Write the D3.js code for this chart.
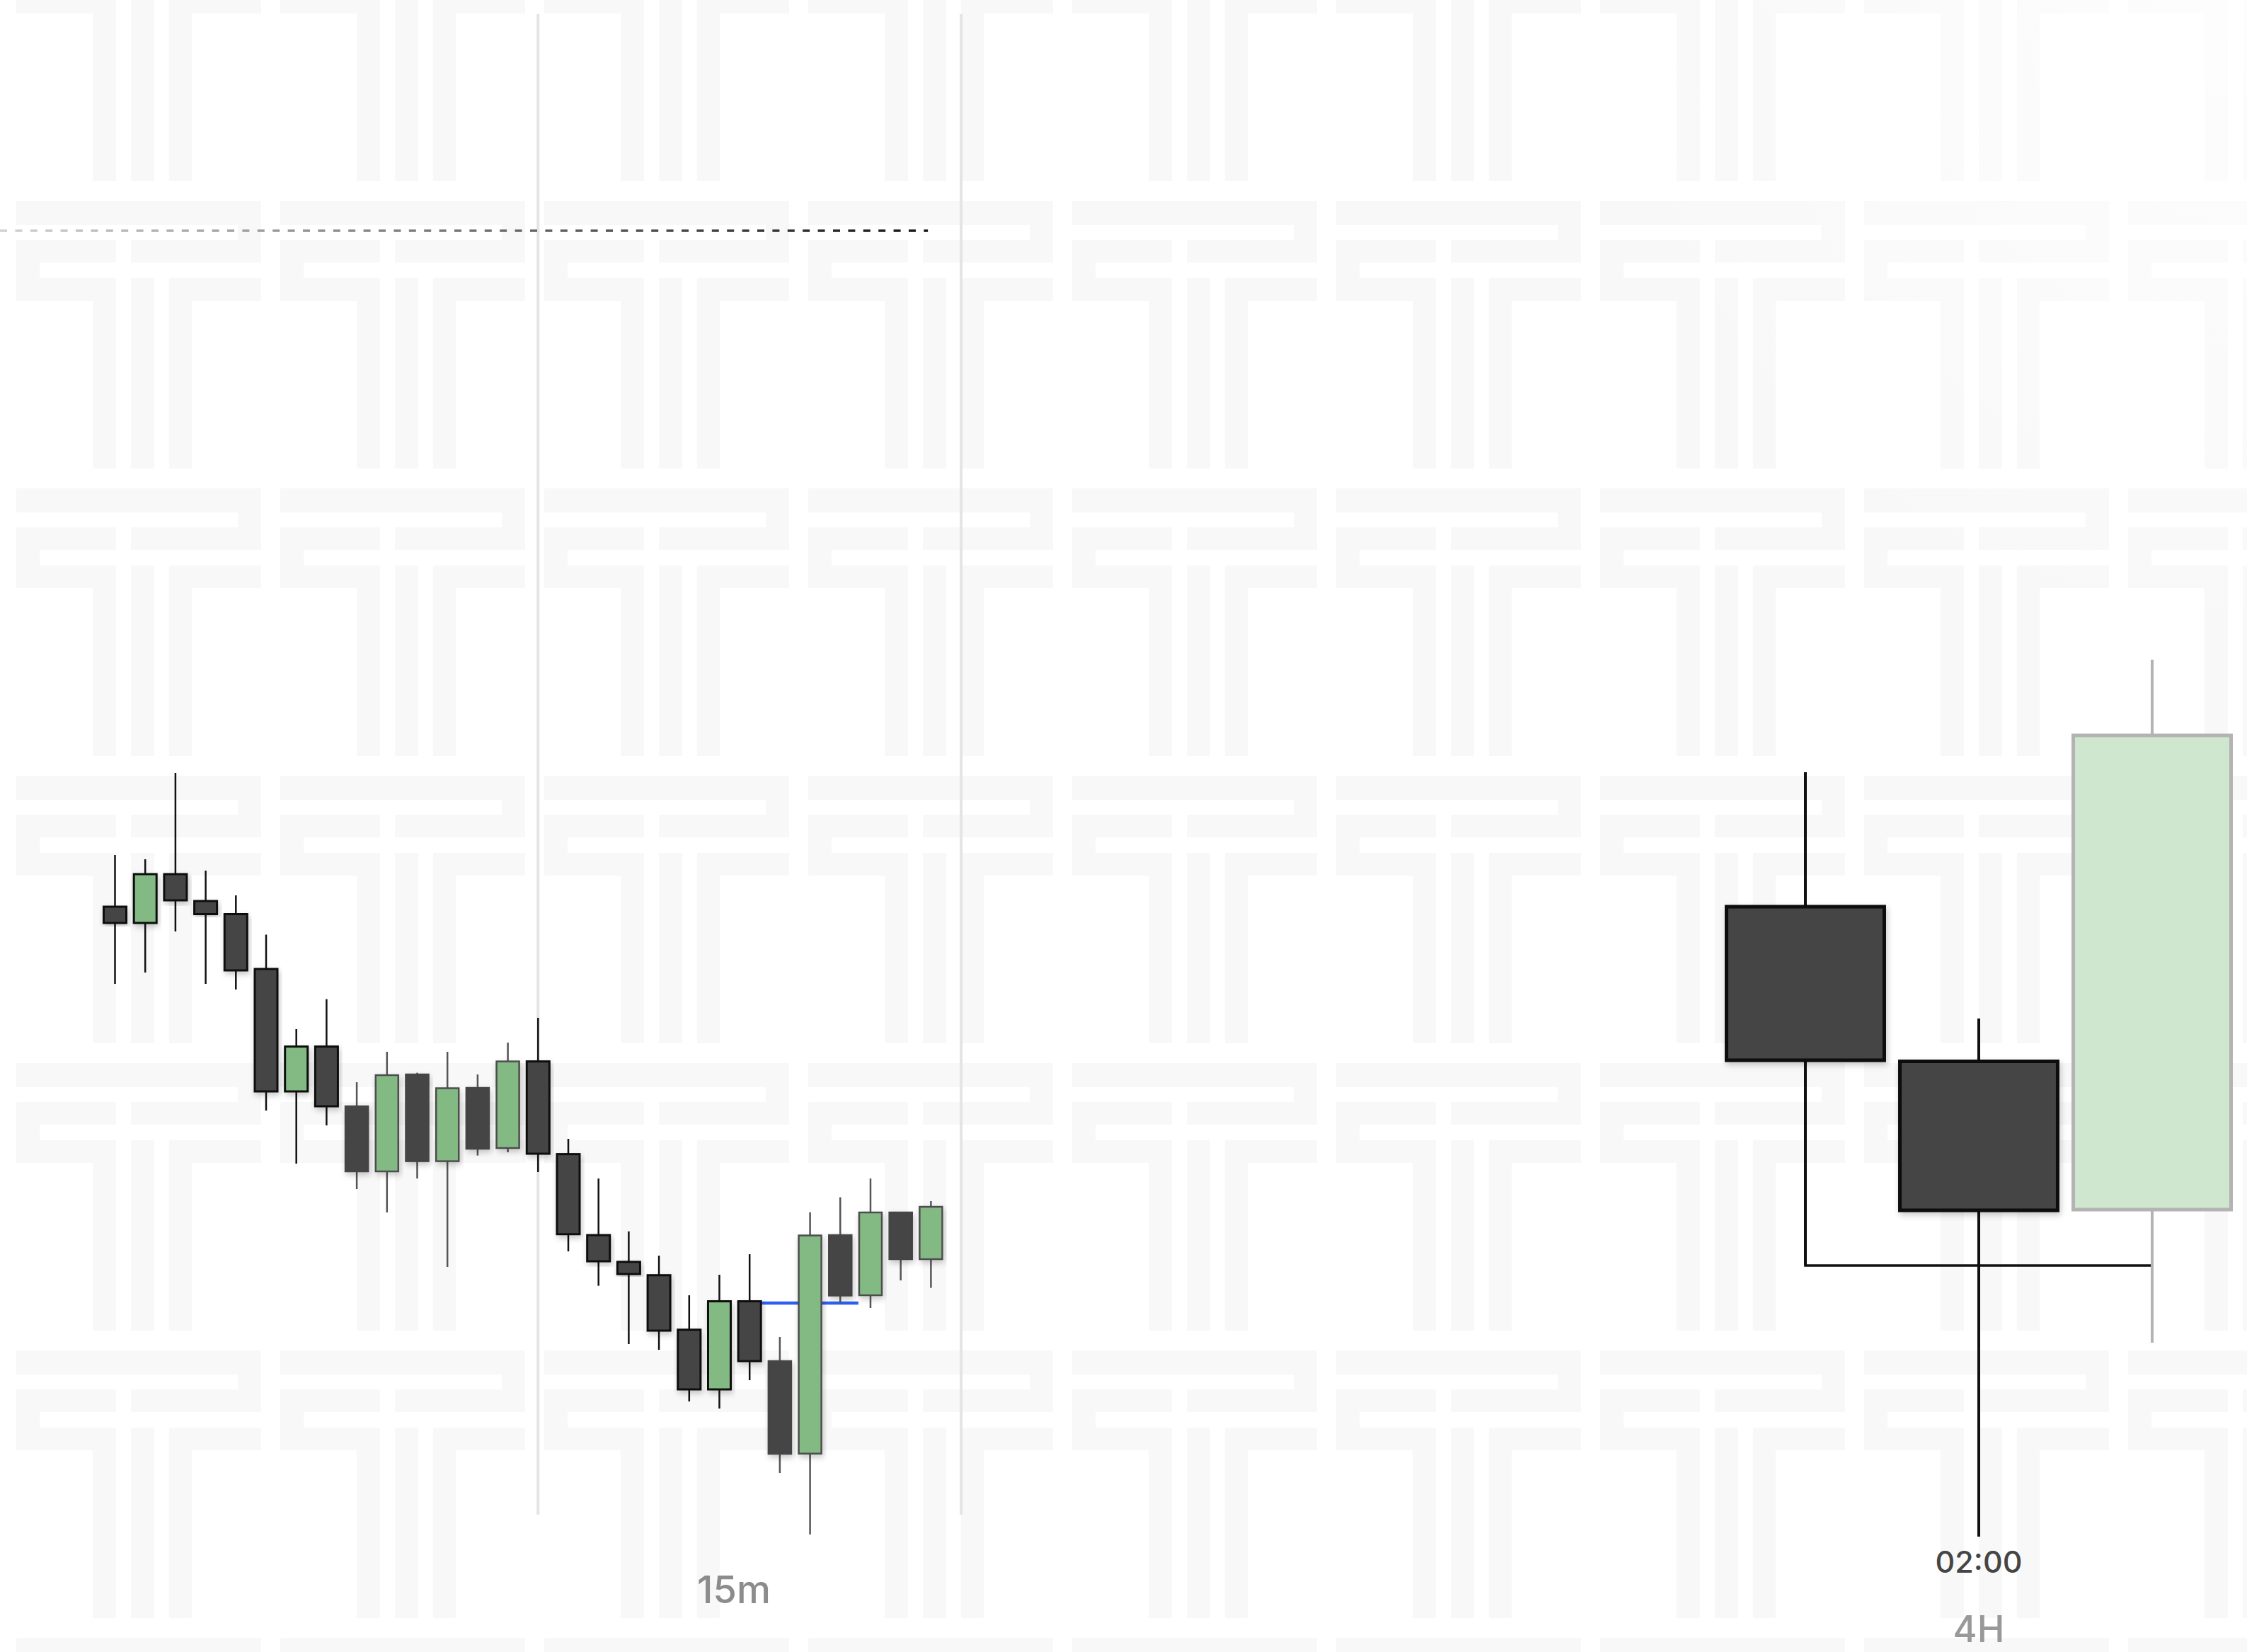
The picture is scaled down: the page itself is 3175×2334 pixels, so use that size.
<!DOCTYPE html>
<html>
<head>
<meta charset="utf-8">
<script src="https://cdn.jsdelivr.net/npm/d3@7"></script>
<style>
body{margin:0;background:#fff;overflow:hidden;}
</style>
</head>
<body>
<svg id="chart"></svg>
<script>
// 15m bars (oldest first)
var m15Open  = [2876.5, 2865, 2899.5, 2880.5, 2871.25, 2832.5, 2746, 2777.7, 2735.5, 2689.5, 2758, 2696.7, 2748.5, 2706,
                2767.2, 2701.7, 2644.5, 2625.6, 2616.15, 2577.7, 2535.5, 2597.75, 2555.5, 2490.15, 2644.5, 2602, 2660.5, 2627.5];
var m15High  = [2913, 2910, 2971, 2902, 2884.5, 2856.75, 2790, 2811.2, 2752.5, 2774, 2759.2, 2774, 2758, 2780.5,
                2798, 2712.5, 2684.5, 2647.15, 2630, 2602, 2616.5, 2631, 2572.5, 2660.65, 2671.25, 2684.5, 2660.5, 2668.5];
var m15Low   = [2822, 2830, 2859, 2822, 2818, 2732.5, 2695, 2722, 2677, 2660.5, 2684.5, 2622, 2700.7, 2703,
                2689, 2633, 2608.7, 2567.5, 2563.5, 2527, 2522, 2542, 2476.5, 2433, 2596.5, 2593, 2612.5, 2607.25];
var m15Close = [2865, 2899.5, 2881, 2871.25, 2831.5, 2746, 2777.7, 2735.5, 2689.5, 2757.5, 2696.7, 2748.25, 2705.5, 2767.2,
                2702, 2645.15, 2626, 2617, 2577, 2535.5, 2597.75, 2555.5, 2490, 2644.25, 2601.8, 2660.5, 2627.5, 2664.5];
// bars drawn with a dark outline
var m15Marked = [[0, 7], [14, 21]];
var m15Grid = [14, 28];

// 4H bars
var h4Times = ['22:00', '02:00', '06:00'];
var h4Open  = [2876.5, 2767.25, 2662.5];
var h4High  = [2971.5, 2797.5, 3051];
var h4Low   = [2623, 2431.5, 2568.5];
var h4Close = [2768, 2662, 2997.5];
var h4Shown = ['02:00'];

var paneNames = ['15m', '4H'];
var dashLevel = 3354;
var dashEnd = 26.9;
var blueLevel = 2596.5;
var blueSpan = [21.4, 24.6];

var W = 3175, H = 2334;
var svg = d3.select('#chart').attr('width', W).attr('height', H);
var defs = svg.append('defs');

// background logo pattern
var pat = defs.append('pattern')
	.attr('id', 'logo')
	.attr('patternUnits', 'userSpaceOnUse')
	.attr('x', 23).attr('y', 284)
	.attr('width', 373).attr('height', 406);
var logoParts = [[0,0,346,34],[313,34,33,21],[0,55,141,32],[0,87,33,22],[0,109,141,32],[108,141,33,237],
	[162,109,33,269],[162,55,184,32],[216,109,130,32],[216,141,32,237]];
pat.selectAll('rect').data(logoParts).enter()
	.append('rect')
		.attr('x', function(d){return d[0]})
		.attr('y', function(d){return d[1]})
		.attr('width', function(d){return d[2]})
		.attr('height', function(d){return d[3]})
		.attr('fill', '#f8f8f8');

var fade = defs.append('radialGradient')
	.attr('id', 'fade')
	.attr('gradientUnits', 'userSpaceOnUse')
	.attr('cx', W).attr('cy', 0).attr('r', 950);
fade.append('stop').attr('offset', 0).attr('stop-color', '#fff').attr('stop-opacity', 0.75);
fade.append('stop').attr('offset', 1).attr('stop-color', '#fff').attr('stop-opacity', 0);

var dashGrad = defs.append('linearGradient')
	.attr('id', 'dashGrad')
	.attr('gradientUnits', 'userSpaceOnUse')
	.attr('x1', 0).attr('x2', 1310).attr('y1', 0).attr('y2', 0);
dashGrad.append('stop').attr('offset', 0).attr('stop-color', '#d2d2d2');
dashGrad.append('stop').attr('offset', 1).attr('stop-color', '#151515');

defs.append('filter')
	.attr('id', 'shadow')
	.attr('x', '-20%').attr('y', '-20%').attr('width', '140%').attr('height', '140%')
	.append('feDropShadow')
		.attr('dx', 2).attr('dy', 4).attr('stdDeviation', 4)
		.attr('flood-color', '#000').attr('flood-opacity', 0.22);

svg.append('rect').attr('width', W).attr('height', H).attr('fill', '#fff');
svg.append('rect').attr('width', W).attr('height', H).attr('fill', 'url(#logo)');
svg.append('rect').attr('width', W).attr('height', H).attr('fill', 'url(#fade)');

// scales
var y = d3.scaleLinear().domain([2400, 3400]).range([2234, 234]);
var x15 = d3.scaleLinear().domain([0, 27]).range([162.5, 1315.4]);
var bw15 = (x15(1) - x15(0)) * 0.75;
var x4 = d3.scaleBand().domain(h4Times).range([2428.5, 3163.5]).paddingInner(0.09).paddingOuter(0.045);

function isMarked(i){
	return m15Marked.some(function(r){return i >= r[0] && i <= r[1]});
}

// grid lines
svg.append('g').selectAll('line').data(m15Grid).enter()
	.append('line')
		.attr('x1', function(d){return x15(d)})
		.attr('x2', function(d){return x15(d)})
		.attr('y1', 20).attr('y2', 2140)
		.attr('stroke', '#e4e4e4')
		.attr('stroke-width', 4);

// dashed level
svg.append('line')
	.attr('x1', 0).attr('x2', x15(dashEnd))
	.attr('y1', y(dashLevel)).attr('y2', y(dashLevel))
	.attr('stroke', 'url(#dashGrad)')
	.attr('stroke-width', 3.5)
	.attr('stroke-dasharray', '10 11.4');

// blue level
svg.append('line')
	.attr('x1', x15(blueSpan[0])).attr('x2', x15(blueSpan[1]))
	.attr('y1', y(blueLevel)).attr('y2', y(blueLevel))
	.attr('stroke', '#2e5ff2')
	.attr('stroke-width', 4.5);

// 15m candles
var bars15 = d3.range(m15Open.length).map(function(i){
	return {i: i, o: m15Open[i], h: m15High[i], l: m15Low[i], c: m15Close[i], mark: isMarked(i)};
});
var g15 = svg.append('g');
g15.selectAll('line').data(bars15).enter()
	.append('line')
		.attr('x1', function(d){return x15(d.i)})
		.attr('x2', function(d){return x15(d.i)})
		.attr('y1', function(d){return y(d.h)})
		.attr('y2', function(d){return y(d.l)})
		.attr('stroke', function(d){return d.mark ? '#111' : '#555'})
		.attr('stroke-width', 2.5);
g15.selectAll('rect').data(bars15).enter()
	.append('rect')
		.attr('x', function(d){return x15(d.i) - bw15/2})
		.attr('width', bw15)
		.attr('y', function(d){return y(Math.max(d.o, d.c))})
		.attr('height', function(d){return Math.max(2, Math.abs(y(d.o) - y(d.c)))})
		.attr('fill', function(d){return d.c >= d.o ? '#83b983' : '#444444'})
		.attr('stroke', function(d){
			if (d.mark) return '#111';
			return d.c >= d.o ? '#4d4d4d' : '#444444';
		})
		.attr('stroke-width', function(d){return d.mark ? 3 : 2.5})
		.attr('filter', 'url(#shadow)');

// 4H candles
var bars4 = h4Times.map(function(t, i){
	return {t: t, o: h4Open[i], h: h4High[i], l: h4Low[i], c: h4Close[i], live: i == h4Times.length - 1};
});
var cx4 = function(t){return x4(t) + x4.bandwidth()/2};

// low of the first 4H bar carried to the last
svg.append('path')
	.attr('d', 'M' + cx4(h4Times[0]) + ',' + y(bars4[0].o) + 'V' + y(bars4[0].l) + 'H' + cx4(h4Times[2]))
	.attr('fill', 'none')
	.attr('stroke', '#111')
	.attr('stroke-width', 3.5);

var g4 = svg.append('g');
g4.selectAll('line').data(bars4).enter()
	.append('line')
		.attr('x1', function(d){return cx4(d.t)})
		.attr('x2', function(d){return cx4(d.t)})
		.attr('y1', function(d){return y(d.h)})
		.attr('y2', function(d){return y(d.l)})
		.attr('stroke', function(d){return d.live ? '#b3b3b3' : '#111'})
		.attr('stroke-width', 4);
g4.selectAll('rect').data(bars4).enter()
	.append('rect')
		.attr('x', function(d){return x4(d.t)})
		.attr('width', x4.bandwidth())
		.attr('y', function(d){return y(Math.max(d.o, d.c))})
		.attr('height', function(d){return Math.abs(y(d.o) - y(d.c))})
		.attr('fill', function(d){return d.live ? '#cfe6cf' : '#444444'})
		.attr('stroke', function(d){return d.live ? '#b3b3b3' : '#0d0d0d'})
		.attr('stroke-width', 5)
		.attr('filter', function(d){return d.live ? null : 'url(#shadow)'});

// time axis for the 4H pane
var ax = svg.append('g')
	.attr('transform', 'translate(0,2191)')
	.call(d3.axisBottom(x4).tickValues(h4Shown).tickSize(0).tickPadding(0));
ax.select('.domain').remove();
ax.selectAll('text')
	.attr('font-family', 'Inter, "Liberation Sans", sans-serif')
	.attr('font-size', 43)
	.attr('font-weight', 500)
	.attr('fill', '#454545');

// pane names
var paneCenters = [1037, (x4.range()[0] + x4.range()[1]) / 2];
var paneBase = [2265, 2320];
svg.selectAll('text.pane').data(paneNames).enter()
	.append('text')
		.attr('class', 'pane')
		.attr('x', function(d, i){return paneCenters[i]})
		.attr('y', function(d, i){return paneBase[i]})
		.attr('text-anchor', 'middle')
		.attr('font-family', 'Inter, "Open Sans", sans-serif')
		.attr('font-size', function(d, i){return i == 0 ? 54 : 52})
		.attr('font-weight', 500)
		.attr('fill', function(d, i){return i == 0 ? '#8c8c8c' : '#999'})
		.text(function(d){return d});
</script>
</body>
</html>
